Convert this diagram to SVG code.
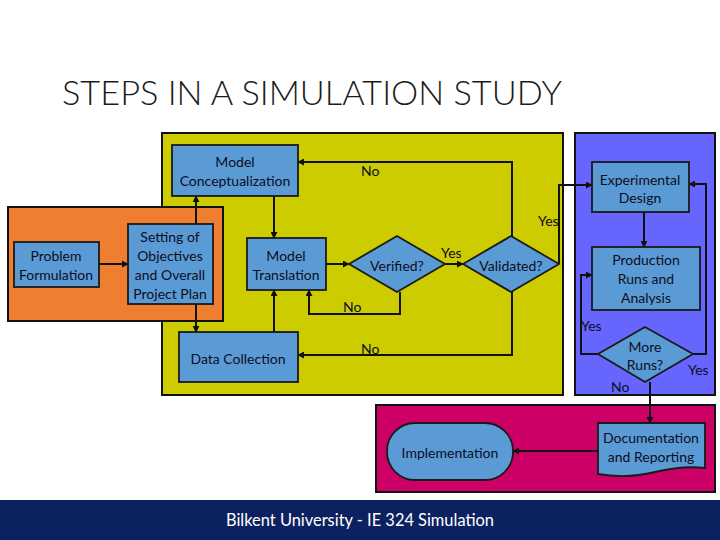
<svg xmlns="http://www.w3.org/2000/svg" width="720" height="540" viewBox="0 0 720 540">
<style>
.panel{stroke:#111;stroke-width:2}
.node{fill:#5b9bd5;stroke:#1a1a1a;stroke-width:1.8}
.t{font-family:Lato,"Liberation Sans",Arial,sans-serif;font-size:14px;fill:#0d0d1e;text-anchor:middle;dominant-baseline:central}
.lbl{font-family:Lato,"Liberation Sans",Arial,sans-serif;font-size:14px;fill:#0d0d1e;dominant-baseline:central}
.c{fill:none;stroke:#111;stroke-width:2}
.ca{fill:none;stroke:#111;stroke-width:2;marker-end:url(#ah)}
</style>
<defs>
<marker id="ah" viewBox="0 0 8 8" refX="7" refY="4" markerWidth="3.5" markerHeight="3.5" orient="auto" markerUnits="strokeWidth">
<path d="M0,0 L8,4 L0,8 z" fill="#111"/>
</marker>
</defs>
<rect x="0" y="0" width="720" height="540" fill="#ffffff"/>
<text x="62" y="105" font-family="Lato,'Liberation Sans',Arial,sans-serif" font-weight="300" font-size="34" fill="#1a1a1a" textLength="500" lengthAdjust="spacingAndGlyphs">STEPS IN A SIMULATION STUDY</text>

<g id="panels">
<rect class="panel" x="162" y="133" width="401" height="262" fill="#cccc00"/>
<rect class="panel" x="8" y="207" width="215" height="114" fill="#ef7f30"/>
<rect class="panel" x="575" y="133" width="140" height="262" fill="#6666ff"/>
<rect class="panel" x="376" y="405" width="339" height="87" fill="#cc0066"/>
</g>

<g id="connectors">
<path class="ca" d="M99,264 H128"/>
<path class="ca" d="M196,224 V196"/>
<path class="ca" d="M196,304 V332"/>
<path class="ca" d="M274,196 V238"/>
<path class="ca" d="M274,332 V290"/>
<path class="ca" d="M326,264 H349"/>
<path class="ca" d="M400,292 V314 H309 V290"/>
<path class="ca" d="M445,264 H463"/>
<path class="ca" d="M512,236 V162 H298"/>
<path class="ca" d="M512,292 V355 H298"/>
<path class="ca" d="M559,264 V185 H592"/>
<path class="ca" d="M644,212 V247"/>
<path class="ca" d="M598,354 H581 V275 H592"/>
<path class="ca" d="M693,354 H706 V184 H689"/>
<path class="ca" d="M650,382 V423"/>
<path class="ca" d="M598,451 H513"/>
</g>

<g id="edge-labels">
<text class="lbl" x="361" y="170">No</text>
<text class="lbl" x="538" y="220">Yes</text>
<text class="lbl" x="441" y="252">Yes</text>
<text class="lbl" x="343" y="306">No</text>
<text class="lbl" x="361" y="348">No</text>
<text class="lbl" x="581" y="325">Yes</text>
<text class="lbl" x="688" y="369">Yes</text>
<text class="lbl" x="611" y="386">No</text>
</g>

<g id="model-conceptualization">
<rect class="node" x="172" y="145" width="126" height="51"/>
<text class="t" x="235" y="161">Model</text>
<text class="t" x="235" y="180">Conceptualization</text>
</g>
<g id="problem-formulation">
<rect class="node" x="14" y="242" width="85" height="45"/>
<text class="t" x="56" y="255">Problem</text>
<text class="t" x="56" y="274">Formulation</text>
</g>
<g id="setting-objectives">
<rect class="node" x="128" y="224" width="85" height="80"/>
<text class="t" x="170" y="236">Setting of</text>
<text class="t" x="170" y="255">Objectives</text>
<text class="t" x="170" y="274">and Overall</text>
<text class="t" x="170" y="293">Project Plan</text>
</g>
<g id="model-translation">
<rect class="node" x="247" y="238" width="79" height="52"/>
<text class="t" x="286" y="255">Model</text>
<text class="t" x="286" y="274">Translation</text>
</g>
<g id="data-collection">
<rect class="node" x="179" y="332" width="119" height="50"/>
<text class="t" x="238" y="358">Data Collection</text>
</g>
<g id="verified">
<polygon class="node" points="349,264 397,236 445,264 397,292"/>
<text class="t" x="397" y="265">Verified?</text>
</g>
<g id="validated">
<polygon class="node" points="463,264 511,236 559,264 511,292"/>
<text class="t" x="511" y="265">Validated?</text>
</g>
<g id="experimental-design">
<rect class="node" x="592" y="162" width="97" height="50"/>
<text class="t" x="640" y="179">Experimental</text>
<text class="t" x="640" y="197">Design</text>
</g>
<g id="production-runs">
<rect class="node" x="592" y="247" width="108" height="63"/>
<text class="t" x="646" y="259">Production</text>
<text class="t" x="646" y="278">Runs and</text>
<text class="t" x="646" y="297">Analysis</text>
</g>
<g id="more-runs">
<polygon class="node" points="598,354 645,327 693,354 645,382"/>
<text class="t" x="645" y="346">More</text>
<text class="t" x="645" y="364">Runs?</text>
</g>
<g id="documentation">
<path class="node" d="M598,423 H705 V468 C688,466 672,468 655,472 C635,477 615,477 598,474 Z"/>
<text class="t" x="651" y="437">Documentation</text>
<text class="t" x="651" y="456">and Reporting</text>
</g>
<g id="implementation">
<rect class="node" x="387" y="423" width="126" height="57" rx="28" ry="28"/>
<text class="t" x="450" y="452">Implementation</text>
</g>

<g id="footer">
<rect x="0" y="500" width="720" height="40" fill="#0c2260"/>
<text x="226" y="526" font-family="Lato,'Liberation Sans',Arial,sans-serif" font-size="17" fill="#ffffff" textLength="268" lengthAdjust="spacingAndGlyphs">Bilkent University - IE 324 Simulation</text>
</g>
</svg>
